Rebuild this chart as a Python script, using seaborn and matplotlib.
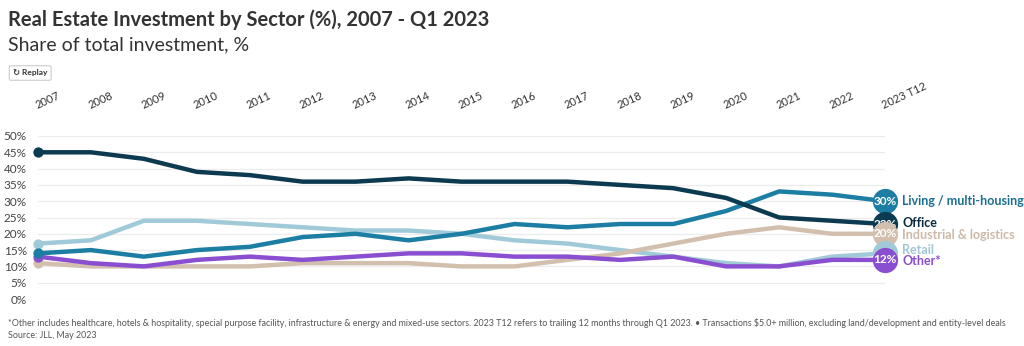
import matplotlib
matplotlib.use("Agg")
import matplotlib.pyplot as plt
import seaborn as sns
import pandas as pd

# Annual share of total investment by sector (%)
years = ["2007", "2008", "2009", "2010", "2011", "2012", "2013", "2014", "2015",
         "2016", "2017", "2018", "2019", "2020", "2021", "2022", "2023 T12"]
living = [14, 15, 13, 15, 16, 19, 20, 18, 20, 23, 22, 23, 23, 27, 33, 32, 30]
office = [45, 45, 43, 39, 38, 36, 36, 37, 36, 36, 36, 35, 34, 31, 25, 24, 23]
industrial = [11, 10, 10, 10, 10, 11, 11, 11, 10, 10, 12, 14, 17, 20, 22, 20, 20]
retail = [17, 18, 24, 24, 23, 22, 21, 21, 20, 18, 17, 15, 13, 11, 10, 13, 14]
other = [13, 11, 10, 12, 13, 12, 13, 14, 14, 13, 13, 12, 13, 10, 10, 12, 12]

sectors = ["Living / multi-housing", "Office", "Industrial & logistics", "Retail", "Other*"]
series = [living, office, industrial, retail, other]
colors = {
    "Living / multi-housing": "#1b7ea2",
    "Office": "#0c3a50",
    "Industrial & logistics": "#d3bfae",
    "Retail": "#a0cad8",
    "Other*": "#8a4fd0",
}
label_colors = {
    "Living / multi-housing": "#1b6f90",
    "Office": "#0a2a3c",
    "Industrial & logistics": "#cdb9a8",
    "Retail": "#a0c6d6",
    "Other*": "#8a4fd0",
}
# vertical nudges for end labels (in % units)
label_nudge = {
    "Living / multi-housing": 0.0,
    "Office": 0.3,
    "Industrial & logistics": -0.5,
    "Retail": 0.9,
    "Other*": -0.4,
}
# bubbles whose value sits fully underneath a neighbouring bubble
covered = {"Retail"}

rows = []
for name, vals in zip(sectors, series):
    for i, (yr, v) in enumerate(zip(years, vals)):
        rows.append({"idx": i, "year": yr, "share": v, "sector": name})
df = pd.DataFrame(rows)

sns.set_style("white")
plt.rcParams["font.family"] = ["Lato", "DejaVu Sans"]

fig = plt.figure(figsize=(10.24, 3.46), dpi=100)
ax = fig.add_axes([38 / 1024, 1 - 299 / 346, (885 - 38) / 1024, (299 - 136) / 346])

draw_order = ["Retail", "Industrial & logistics", "Other*", "Living / multi-housing", "Office"]
for name in draw_order:
    sub = df[df["sector"] == name]
    sns.lineplot(data=sub, x="idx", y="share", color=colors[name], linewidth=3.2,
                 ax=ax, legend=False, clip_on=False, solid_capstyle="round")
    first = sub.iloc[0]
    ax.scatter([first["idx"]], [first["share"]], s=55, color=colors[name],
               zorder=5, clip_on=False, linewidths=0)

# End-of-line value bubbles (stacked so later bubbles cover earlier ones) and sector names
end_order = ["Living / multi-housing", "Office", "Industrial & logistics", "Retail", "Other*"]
for k, name in enumerate(end_order):
    sub = df[df["sector"] == name]
    last = sub.iloc[-1]
    z = 6 + k * 0.2
    ax.scatter([last["idx"]], [last["share"]], s=330, color=colors[name],
               zorder=z, clip_on=False, linewidths=0)
    if name not in covered:
        ax.text(last["idx"], last["share"], f"{int(last['share'])}%", color="white",
                fontsize=8.5, fontweight="bold", ha="center", va="center", zorder=z + 0.1)
    ax.text(last["idx"] + 0.33, last["share"] + label_nudge[name], name,
            color=label_colors[name], fontsize=9, fontweight="bold",
            ha="left", va="center", zorder=z + 0.1, clip_on=False)

ax.set_xlim(0, len(years) - 1)
ax.set_ylim(0, 50)
ax.set_yticks(range(0, 51, 5))
ax.set_yticklabels([f"{t}%" for t in range(0, 51, 5)], fontsize=8.5, color="#444444")
ax.yaxis.grid(True, color="#ececec", linewidth=0.9)
ax.xaxis.grid(False)
ax.set_xticks(range(len(years)))
ax.set_xticklabels(years, rotation=25, ha="left", va="bottom", fontsize=8, color="#333333",
                   rotation_mode="anchor")
ax.xaxis.tick_top()
ax.tick_params(axis="x", length=0, pad=18)
ax.tick_params(axis="y", length=0, pad=8)
ax.set_xlabel("")
ax.set_ylabel("")
for s in ax.spines.values():
    s.set_visible(False)

fig.text(8 / 1024, 1 - 20 / 346, "Real Estate Investment by Sector (%), 2007 - Q1 2023",
         fontsize=14.5, fontweight="bold", color="#333333", va="center", ha="left")
fig.text(8 / 1024, 1 - 45 / 346, "Share of total investment, %",
         fontsize=14, color="#333333", va="center", ha="left")
fig.text(13 / 1024, 1 - 73 / 346, "\u21bb Replay", fontsize=6, fontweight="bold",
         color="#333333", va="center", ha="left",
         bbox=dict(boxstyle="round,pad=0.45,rounding_size=0.2", fc="white", ec="#cccccc", lw=0.8))

fig.text(8 / 1024, 1 - 323 / 346,
         "*Other includes healthcare, hotels & hospitality, special purpose facility, infrastructure & energy "
         "and mixed-use sectors. 2023 T12 refers to trailing 12 months through Q1 2023. \u2022 Transactions "
         "$5.0+ million, excluding land/development and entity-level deals",
         fontsize=6.4, color="#555555", va="center", ha="left")
fig.text(8 / 1024, 1 - 336 / 346, "Source: JLL, May 2023",
         fontsize=6.4, color="#555555", va="center", ha="left")

fig.savefig("out.png", dpi=100)
